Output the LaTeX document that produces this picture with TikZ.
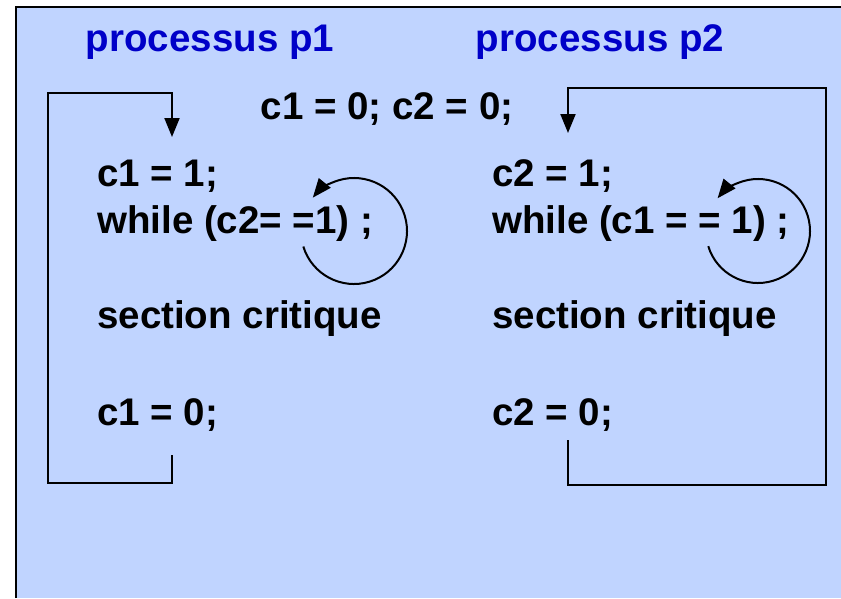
\documentclass[tikz,border=0pt]{standalone}
\usepackage{fontspec}
\setmainfont{Liberation Sans}
\usetikzlibrary{arrows.meta}
\definecolor{fond}{RGB}{192,212,255}
\definecolor{titre}{RGB}{0,0,200}
\tikzset{code/.style={anchor=base west,inner sep=0pt,font=\fontsize{38.5}{46}\selectfont\bfseries}}

\begin{document}
\begin{tikzpicture}[x=1pt,y=-1pt]
\tikzstyle{retour} = [line width=2pt, -{Triangle[length=19pt,width=15pt]}]
\tikzstyle{attente} = [line width=2pt, -{Triangle[length=19pt,width=15pt]}]
\useasboundingbox (0,0) rectangle (841,598);
\fill[fond] (16,7) rectangle (841,598);
\draw[line width=2pt] (16,598) -- (16,7) -- (841,7);

% titres
\node[code, anchor=base, text=titre](t1) at (210,51){processus p1};
\node[code, anchor=base, text=titre](t2) at (600,51){processus p2};
\node[code, anchor=base](init) at (387,119){c1 = 0; c2 = 0;};

% processus p1
\node[code](a1) at (97,186){c1 = 1;};
\node[code](w1) at (97,233){while (c2= =1) ;};
\node[code](s1) at (97,328){section critique};
\node[code](z1) at (97,425){c1 = 0;};

% processus p2
\node[code](a2) at (492,186){c2 = 1;};
\node[code](w2) at (492,233){while (c1 = = 1) ;};
\node[code](s2) at (492,328){section critique};
\node[code](z2) at (492,425){c2 = 0;};

% boucles
\coordinate (out1) at (172,455);
\coordinate (in1) at (172,137);
\draw[retour] (out1) -- ++(0,28) -| (48,93) -| (in1);
\coordinate (out2) at (568,440);
\coordinate (in2) at (568,133);
\draw[retour] (out2) -- ++(0,45) -| (826,88) -| (in2);

% attente active
\coordinate (c1) at (354,231);
\coordinate (c2) at (758,231);
\draw[attente] (c1) ++(163:53) arc (163:-141:53);
\draw[attente] (c2) ++(163:52) arc (163:-141:52);
\end{tikzpicture}
\end{document}
